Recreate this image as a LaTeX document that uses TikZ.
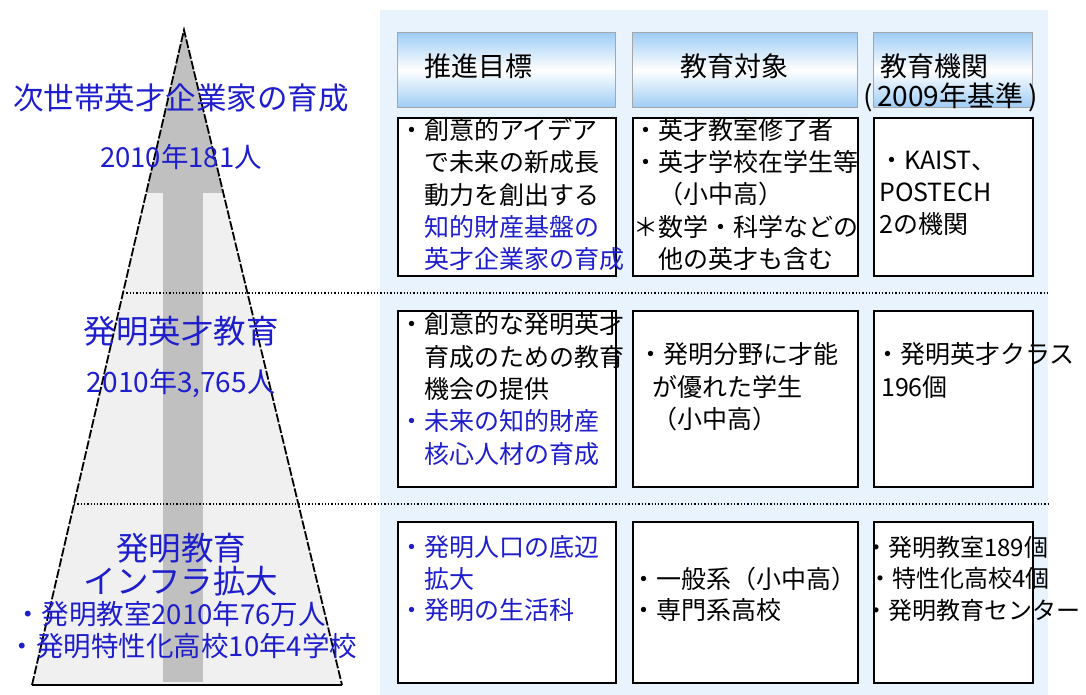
\documentclass[tikz,border=0pt]{standalone}
\usepackage{fontspec}
\setmainfont{Noto Sans CJK JP}
\usetikzlibrary{shadows}
\definecolor{panel}{RGB}{232,243,253}
\definecolor{hdrblue}{RGB}{158,204,245}
\definecolor{jblue}{RGB}{30,30,205}
\definecolor{tri}{RGB}{240,240,240}
\definecolor{arrowgray}{RGB}{192,192,192}
\begin{document}
\begin{tikzpicture}[x=1pt,y=-1pt,
  hdr/.style={draw=black!35, line width=0.8pt, top color=hdrblue, bottom color=hdrblue, middle color=white, anchor=north west, minimum height=75pt, inner sep=0pt},
  cell/.style={draw=black, line width=1.6pt, fill=white, anchor=north west, inner sep=0pt,
    drop shadow={shadow xshift=1.2pt, shadow yshift=-1.2pt, fill=black!45, opacity=0.6}},
  btxt/.style={anchor=north west, inner sep=0pt, align=left, font=\fontsize{25}{32.3}\selectfont, text=black},
  ltxt/.style={text=jblue, inner sep=0pt, align=center},
  sep/.style={dotted, line width=1.3pt}
]
\useasboundingbox (0,0) rectangle (1086,695);
\fill[white] (0,0) rectangle (1086,695);
% panel
\fill[panel] (380,10) rectangle (1048,695);

% triangle with upward arrow
\coordinate (apex) at (184,30);
\coordinate (bl) at (32,685);
\coordinate (br) at (342,685);
\fill[tri] (apex) -- (br) -- (bl) -- cycle;
\begin{scope}
  \clip (apex) -- (br) -- (bl) -- cycle;
  \fill[arrowgray] (0,20) rectangle (400,193);
  \fill[arrowgray] (163,190) rectangle (203,682);
\end{scope}
\draw[line width=1.8pt, dash pattern=on 9pt off 2pt] (bl) -- (apex) -- (br);
\draw[line width=1.8pt] (bl) -- (br);

% dotted separators
\coordinate (s1a) at (123,293);
\coordinate (s1b) at (1048,293);
\coordinate (s2a) at (74,504);
\coordinate (s2b) at (1048,504);
\draw[sep] (s1a) -- (s1b);
\draw[sep] (s2a) -- (s2b);

% header boxes
\node[hdr, minimum width=218pt] (h1) at (397,32) {};
\node[hdr, minimum width=225pt] (h2) at (632,32) {};
\node[hdr, minimum width=159pt] (h3) at (873,32) {};
\node[font=\fontsize{27}{30}\selectfont, anchor=west, inner sep=0pt] (h1t) at (424,66) {推進目標};
\node[font=\fontsize{27}{30}\selectfont, anchor=west, inner sep=0pt] (h2t) at (680,66) {教育対象};
\node[font=\fontsize{27}{30}\selectfont, anchor=west, inner sep=0pt] (h3t) at (880,66) {教育機関};
\node[font=\fontsize{28}{30}\selectfont, anchor=west, inner sep=0pt] (h3u) at (863,97) {(\,2009年基準\,)};

% row 1
\node[cell, minimum width=218pt, minimum height=158pt] (b11) at (397,117) {};
\node[cell, minimum width=225pt, minimum height=158pt] (b12) at (632,117) {};
\node[cell, minimum width=159pt, minimum height=158pt] (b13) at (873,117) {};
\node[btxt] (t11) at (399,118) {・創意的アイデア\\　で未来の新成長\\　動力を創出する\\　\textcolor{jblue}{知的財産基盤の}\\　\textcolor{jblue}{英才企業家の育成}};
\node[btxt] (t12) at (633,118) {・英才教室修了者\\・英才学校在学生等\\　（小中高）\\＊数学・科学などの\\　他の英才も含む};
\node[btxt] (t13) at (879,150.5) {・KAIST、\\POSTECH\\2の機関};

% row 2
\node[cell, minimum width=218pt, minimum height=176pt] (b21) at (397,310) {};
\node[cell, minimum width=225pt, minimum height=176pt] (b22) at (632,310) {};
\node[cell, minimum width=159pt, minimum height=176pt] (b23) at (873,310) {};
\node[btxt] (t21) at (399,312.5) {・創意的な発明英才\\　育成のための教育\\　機会の提供\\\textcolor{jblue}{・未来の知的財産}\\　\textcolor{jblue}{核心人材の育成}};
\node[btxt] (t22) at (638,342.5) {・発明分野に才能\\\hspace*{14pt}が優れた学生\\\hspace*{14pt}（小中高）};
\node[btxt] (t23) at (875,342.5) {・発明英才クラス\\\hspace*{6pt}196個};

% row 3
\node[cell, minimum width=218pt, minimum height=161pt] (b31) at (397,521) {};
\node[cell, minimum width=225pt, minimum height=161pt] (b32) at (632,521) {};
\node[cell, minimum width=159pt, minimum height=161pt] (b33) at (873,521) {};
\node[btxt, font=\fontsize{25}{31.5}\selectfont, text=jblue] (t31) at (399,535.5) {・発明人口の底辺\\　拡大\\・発明の生活科};
\node[btxt, font=\fontsize{25}{31.5}\selectfont] (t32) at (631,566.5) {・一般系（小中高）\\・専門系高校};
\node[btxt, font=\fontsize{24}{31.5}\selectfont] (t33) at (864,536) {・発明教室189個\\\hspace*{4pt}・特性化高校4個\\・発明教育センター};

% left labels
\node[ltxt, font=\fontsize{30.5}{33}\selectfont] (l1) at (181,98) {次世帯英才企業家の育成};
\node[ltxt, font=\fontsize{27.5}{30}\selectfont] (l2) at (181,157) {2010年181人};
\node[ltxt, font=\fontsize{32.5}{35}\selectfont] (l3) at (181,331) {発明英才教育};
\node[ltxt, font=\fontsize{28}{30}\selectfont] (l4) at (181,383) {2010年3,765人};
\node[ltxt, font=\fontsize{32.5}{33}\selectfont] (l5) at (181,565) {発明教育\\インフラ拡大};
\node[ltxt, font=\fontsize{27.5}{30}\selectfont] (l6) at (170,614) {・発明教室2010年76万人};
\node[ltxt, font=\fontsize{27.5}{30}\selectfont] (l7) at (183,646) {・発明特性化高校10年4学校};
\end{tikzpicture}
\end{document}
